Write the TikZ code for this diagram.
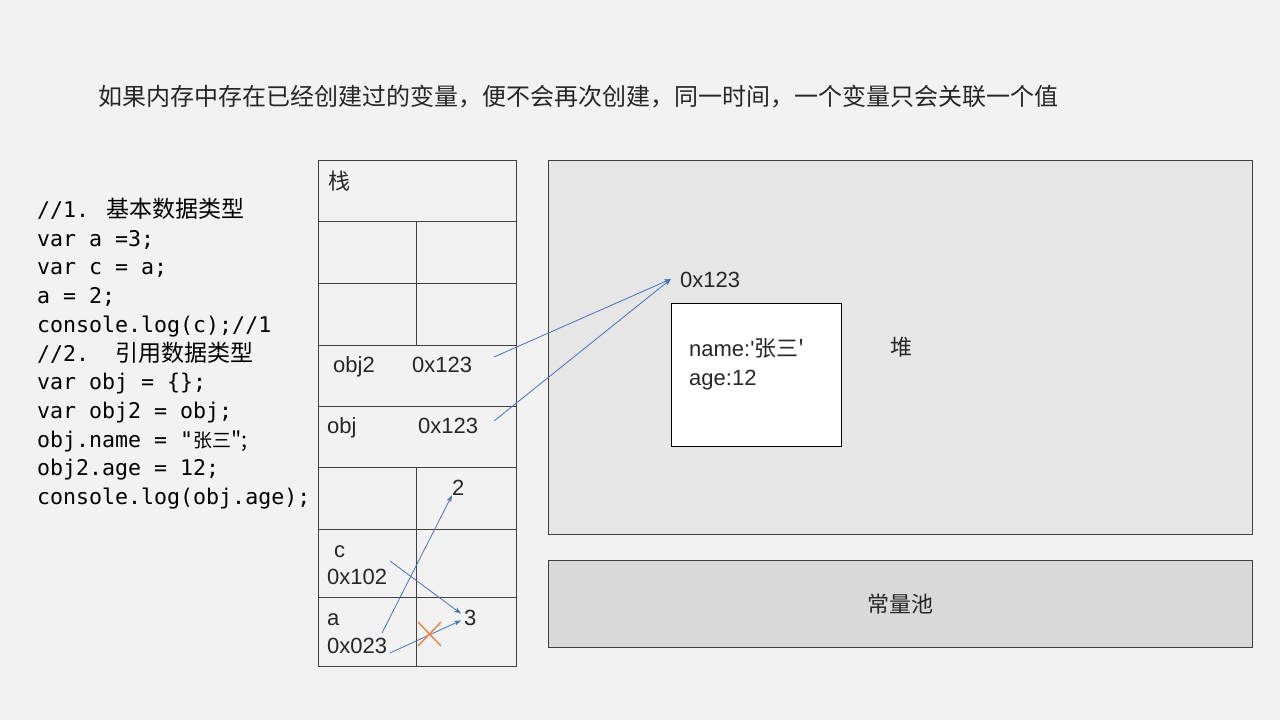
\documentclass[tikz,border=0pt]{standalone}
\usepackage{fontspec}
\setmainfont{Liberation Sans}
\newfontfamily\zh{Noto Sans CJK SC}
\newfontfamily\codefont{DejaVu Sans Mono}
\usepackage{xcolor}
\usetikzlibrary{arrows.meta, positioning}

\definecolor{bgcol}{HTML}{F2F2F2}
\definecolor{heapcol}{HTML}{E6E6E6}
\definecolor{poolcol}{HTML}{D9D9D9}
\definecolor{ptrblue}{HTML}{4472C4}
\definecolor{crossorange}{HTML}{ED7D31}
\definecolor{linecol}{HTML}{404040}

\tikzset{
    codeline/.style={anchor=west, inner sep=0pt, text height=16pt, text depth=2pt, font=\codefont\fontsize{21.6}{24}\selectfont},
    lbl/.style={inner sep=0pt, text height=16pt, text depth=0pt, font=\fontsize{22}{26}\selectfont, text=black!85},
    zhlbl/.style={inner sep=0pt, font=\zh\fontsize{22}{26}\selectfont, text=black!85},
    ptr/.style={-{Stealth[length=7pt, width=5pt]}, draw=ptrblue, line width=0.8pt},
    cross/.style={draw=crossorange, line width=1.3pt}
}

\begin{document}
\begin{tikzpicture}[x=1pt, y=-1pt]
    \useasboundingbox (0,0) rectangle (1280,720);
    \fill[bgcol] (0,0) rectangle (1280,720);

    % Title
    \node[anchor=west, inner sep=0pt, font=\zh\fontsize{24}{28}\selectfont, text=black!85] (title) at (98,97) {如果内存中存在已经创建过的变量，便不会再次创建，同一时间，一个变量只会关联一个值};

    % Code
    \node[codeline] (code1) at (37,210) {//1. \zh{\fontsize{23}{24}\selectfont 基本数据类型}};
    \node[codeline] (code2) at (37,239) {var a =3;};
    \node[codeline] (code3) at (37,267) {var c = a;};
    \node[codeline] (code4) at (37,296) {a = 2;};
    \node[codeline] (code5) at (37,325) {console.log(c);//1};
    \node[codeline] (code6) at (37,354) {//2.\ \ \zh{\fontsize{23}{24}\selectfont 引用数据类型}};
    \node[codeline] (code7) at (37,382) {var obj = \{\};};
    \node[codeline] (code8) at (37,411) {var obj2 = obj;};
    \node[codeline] (code9) at (37,440) {obj.name = "\zh{\fontsize{19}{24}\selectfont 张三}";};
    \node[codeline] (code10) at (37,468) {obj2.age = 12;};
    \node[codeline] (code11) at (37,497) {console.log(obj.age);};

    % Stack
    \draw[linecol, line width=1pt] (318,160) rectangle (516,666);
    \foreach \y in {221,283,345,406,467,529,597}
        \draw[linecol, line width=1pt] (318,\y) -- (516,\y);
    \draw[linecol, line width=1pt] (416,221) -- (416,345);
    \draw[linecol, line width=1pt] (416,467) -- (416,666);
    \node[zhlbl, anchor=west] (stacklbl) at (328,181) {栈};
    \node[lbl, anchor=west] (obj2name) at (333,364) {obj2};
    \node[lbl, anchor=west] (obj2addr) at (412,364) {0x123};
    \node[lbl, anchor=west] (objname) at (327,425) {obj};
    \node[lbl, anchor=west] (objaddr) at (418,425) {0x123};
    \node[lbl, anchor=west] (two) at (452,487) {2};
    \node[lbl, anchor=west] (cname) at (334,549) {c};
    \node[lbl, anchor=west] (caddr) at (327,576) {0x102};
    \node[lbl, anchor=west] (aname) at (327,617) {a};
    \node[lbl, anchor=west] (aaddr) at (327,645) {0x023};
    \node[lbl, anchor=west, inner sep=3pt] (three) at (461,617) {3};

    % Heap
    \draw[linecol, fill=heapcol] (548,160) rectangle (1252,534);
    \draw[black, fill=white] (671,303) rectangle (841,446);
    \node[lbl, anchor=west, inner sep=0pt, inner xsep=9pt] (heapaddr) at (671,279) {0x123};
    \node[lbl, anchor=west] (objname1) at (689,348) {name:\textquotesingle\zh{张三}\textquotesingle};
    \node[lbl, anchor=west] (objage) at (689,377) {age:12};
    \node[zhlbl] (heaplbl) at (901,347) {堆};

    % Constant pool
    \draw[linecol, fill=poolcol] (548,560) rectangle (1252,647);
    \node[zhlbl] (poollbl) at (900,604) {常量池};

    % Pointers
    \coordinate (obj2tail) at (494,357);
    \coordinate (objtail) at (494,421);
    \coordinate (ctail) at (390,561);
    \coordinate (atailup) at (382,633);
    \coordinate (atail) at (390,653);
    \draw[ptr] (obj2tail) -- (heapaddr.west);
    \draw[ptr] (objtail) -- (heapaddr.west);
    \draw[ptr] (ctail) -- (three.160);
    \draw[ptr] (atailup) -- (two.south west);
    \draw[ptr] (atail) -- (three.200);

    % Cancelled link
    \draw[cross] (418,622) -- (441,646) (418,646) -- (441,622);
\end{tikzpicture}
\end{document}
